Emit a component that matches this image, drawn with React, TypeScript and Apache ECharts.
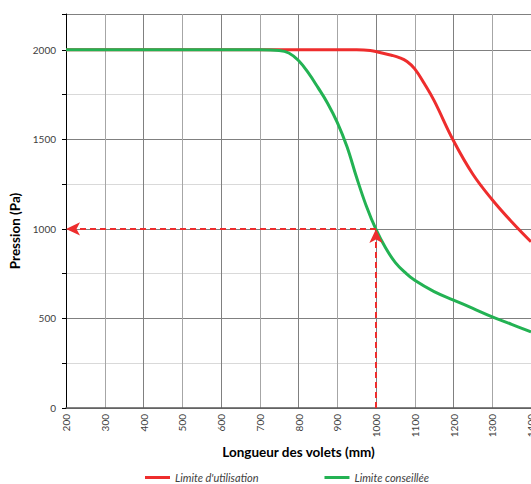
import React, { useEffect, useRef } from "react";
import * as echarts from "echarts";

const redX = [200, 300, 400, 500, 600, 700, 800, 900, 950, 985, 1010, 1040, 1060, 1080, 1100, 1125, 1150, 1200, 1250, 1300, 1350, 1400];
const redY = [2000, 2000, 2000, 2000, 2000, 2000, 2000, 2000, 2000, 1996, 1985, 1970, 1957, 1935, 1894, 1810, 1716, 1492, 1305, 1163, 1040, 928];

const greenX = [200, 300, 400, 500, 600, 700, 750, 775, 800, 825, 850, 875, 900, 925, 950, 975, 1000, 1025, 1050, 1075, 1100, 1150, 1200, 1250, 1300, 1350, 1400];
const greenY = [2000, 2000, 2000, 2000, 2000, 2000, 1996, 1982, 1940, 1872, 1790, 1702, 1595, 1460, 1287, 1128, 997, 893, 812, 757, 713, 650, 603, 556, 509, 467, 425];

const seriesNames = ["Limite d'utilisation", "Limite conseillée"];
const targetX = 1000;
const targetY = 1000;

const FONT = "Lato, 'Open Sans', sans-serif";

export default function App() {
  const ref = useRef<HTMLDivElement>(null);
  useEffect(() => {
    if (!ref.current) return;
    const chart = echarts.init(ref.current, undefined, { renderer: "svg" });
    const red = redX.map((x, i) => [x, redY[i]]);
    const green = greenX.map((x, i) => [x, greenY[i]]);
    chart.setOption({
      animation: false,
      textStyle: { fontFamily: FONT },
      grid: { left: 66, right: 29, top: 14, bottom: 76, containLabel: false },
      legend: {
        left: 140,
        top: 467,
        itemWidth: 25,
        itemHeight: 3,
        itemGap: 66,
        icon: "rect",
        data: seriesNames,
        textStyle: { fontSize: 11, fontStyle: "italic", color: "#404040", fontFamily: FONT },
      },
      graphic: [
        {
          type: "text",
          x: 15,
          y: 231,
          rotation: Math.PI / 2,
          style: {
            text: "Pression (Pa)",
            fontSize: 13.5,
            fontWeight: "bold",
            fontFamily: FONT,
            fill: "#000",
            textAlign: "center",
            textVerticalAlign: "middle",
          },
        },
      ],
      xAxis: {
        type: "value",
        min: 200,
        max: 1400,
        interval: 100,
        name: "Longueur des volets (mm)",
        nameLocation: "middle",
        nameGap: 37,
        nameTextStyle: { fontSize: 13.5, fontWeight: "bold", color: "#000", fontFamily: FONT },
        axisLine: { show: true, onZero: false, lineStyle: { color: "#595959", width: 1.5 } },
        axisTick: { show: false },
        axisLabel: { rotate: 90, fontSize: 10, color: "#404040", margin: 6, fontFamily: FONT, formatter: (v: number) => String(v) },
        splitLine: { show: true, lineStyle: { color: ["#808080", "#a6a6a6"], width: 1 } },
      },
      yAxis: {
        type: "value",
        min: 0,
        max: 2200,
        interval: 500,
        axisLine: { show: true, lineStyle: { color: "#000", width: 1 } },
        axisTick: { show: true, length: 4, inside: false, lineStyle: { color: "#000" } },
        minorTick: { show: true, splitNumber: 2, length: 4, lineStyle: { color: "#000" } },
        axisLabel: {
          fontSize: 10,
          color: "#404040",
          margin: 10,
          fontFamily: FONT,
          formatter: (v: number) => (v === 2200 ? "" : String(v)),
        },
        splitLine: { show: true, lineStyle: { color: "#808080", width: 1 } },
        minorSplitLine: { show: true, lineStyle: { color: "#d9d9d9", width: 1 } },
      },
      series: [
        {
          name: seriesNames[0],
          type: "line",
          data: red,
          smooth: 0.4,
          symbol: "none",
          lineStyle: { color: "#ee2d2d", width: 3 },
          itemStyle: { color: "#ee2d2d" },
          z: 3,
        },
        {
          name: seriesNames[1],
          type: "line",
          data: green,
          smooth: 0.4,
          symbol: "none",
          lineStyle: { color: "#23b253", width: 3 },
          itemStyle: { color: "#23b253" },
          z: 4,
          markLine: {
            silent: true,
            symbol: ["none", "arrow"],
            symbolSize: [10, 14],
            label: { show: false },
            lineStyle: { color: "#ee2d2d", type: [6, 4], width: 2 },
            data: [
              [{ coord: [targetX, targetY] }, { coord: [200, targetY] }],
              [{ coord: [targetX, 0] }, { coord: [targetX, targetY] }],
            ],
          },
        },
      ],
    });
    return () => chart.dispose();
  }, []);
  return (
    <div style={{ position: "fixed", left: 0, top: 0, width: 531, height: 484, overflow: "hidden", background: "#fff" }}>
      <div ref={ref} style={{ width: 560, height: 484 }} />
    </div>
  );
}
